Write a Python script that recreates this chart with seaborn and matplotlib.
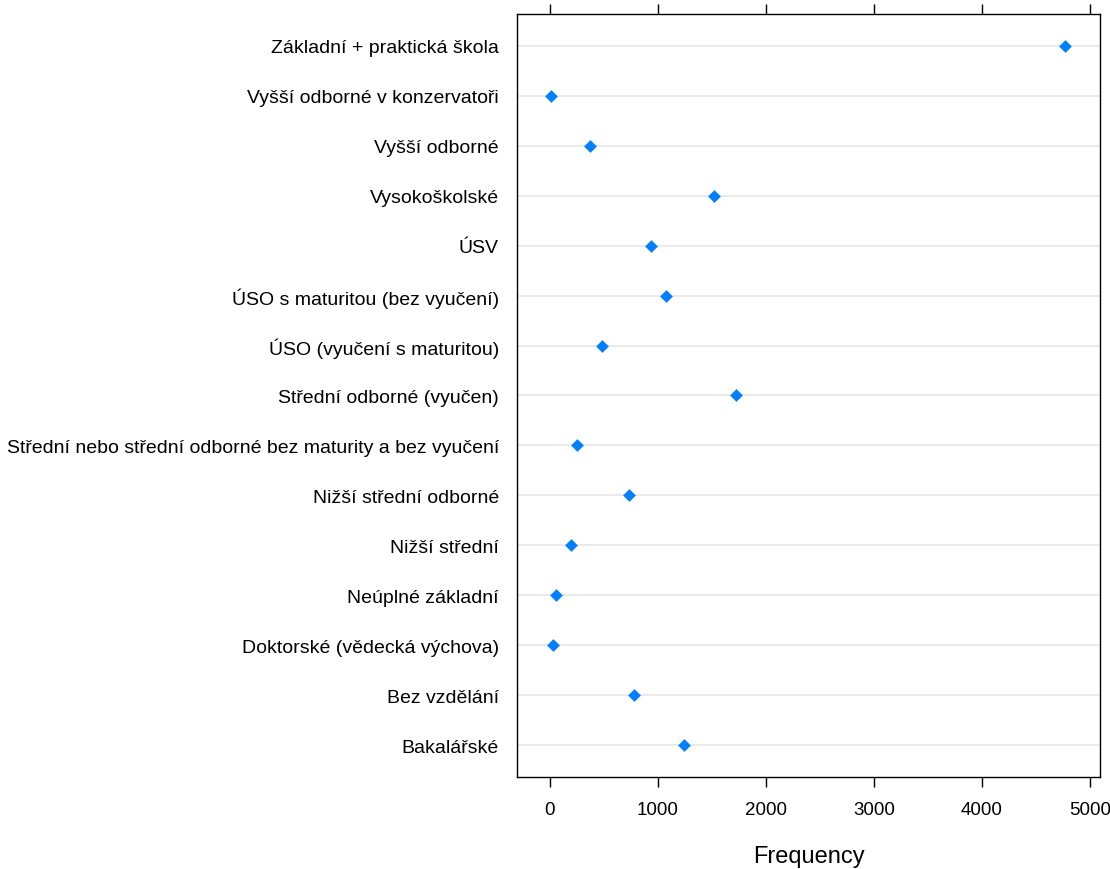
import matplotlib
matplotlib.use("Agg")
import matplotlib.pyplot as plt
import seaborn as sns
import pandas as pd

categories = [
    "Základní + praktická škola",
    "Vyšší odborné v konzervatoři",
    "Vyšší odborné",
    "Vysokoškolské",
    "ÚSV",
    "ÚSO s maturitou (bez vyučení)",
    "ÚSO (vyučení s maturitou)",
    "Střední odborné (vyučen)",
    "Střední nebo střední odborné bez maturity a bez vyučení",
    "Nižší střední odborné",
    "Nižší střední",
    "Neúplné základní",
    "Doktorské (vědecká výchova)",
    "Bez vzdělání",
    "Bakalářské",
]
frequency = [4770, 10, 370, 1520, 935, 1075, 480, 1720, 250, 730, 195, 55, 28, 775, 1240]
x_ticks = [0, 1000, 2000, 3000, 4000, 5000]

df = pd.DataFrame({"cat": categories, "freq": frequency})

sns.set_style("white")
plt.rcParams["font.family"] = ["Liberation Sans", "DejaVu Sans"]
plt.rcParams["text.color"] = "black"
plt.rcParams["xtick.color"] = "black"
plt.rcParams["ytick.color"] = "black"
plt.rcParams["axes.labelcolor"] = "black"

fig = plt.figure(figsize=(11.1, 8.7), dpi=100)
ax = fig.add_axes([517 / 1110, 1 - 778 / 870, (1100 - 517) / 1110, (778 - 15) / 870])

for i in range(len(categories)):
    ax.axhline(i, color="#e6e6e6", lw=1.2, zorder=0)

sns.stripplot(data=df, x="freq", y="cat", order=categories, jitter=False,
              marker="D", color="#0080ff", size=6.5, linewidth=0, ax=ax, zorder=3)

ax.set_xlim(-305, 5093)
ax.set_ylim(len(categories) - 1 + 0.64, -0.64)
ax.set_xticks(x_ticks)
ax.set_xticklabels([str(t) for t in x_ticks], fontsize=13.5)
ax.tick_params(axis="x", which="both", direction="out", length=7, width=1, color="black",
               top=True, bottom=True, labeltop=False, labelbottom=True, pad=10)
ax.tick_params(axis="y", length=0, labelsize=14, pad=13)
for s in ax.spines.values():
    s.set_visible(True)
    s.set_color("black")
    s.set_linewidth(1)
ax.set_ylabel("")
ax.set_xlabel("Frequency", fontsize=17, labelpad=20)
ax.grid(False)

fig.savefig("out.png", dpi=100, facecolor="white")
